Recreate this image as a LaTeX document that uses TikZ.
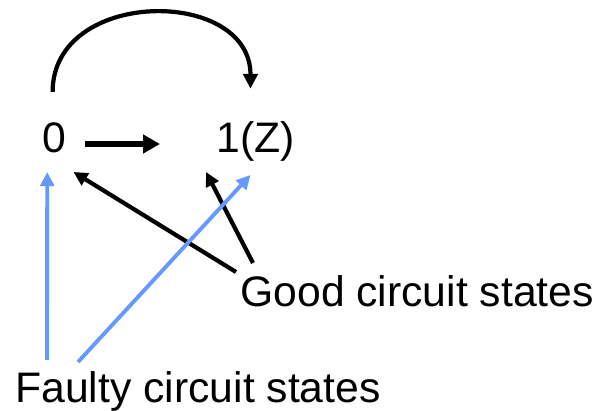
\documentclass[tikz,border=0pt]{standalone}
\usepackage{fontspec}
\setmainfont{Liberation Sans}
\usetikzlibrary{arrows.meta, positioning, calc}
\definecolor{faultblue}{RGB}{102,153,255}
\tikzset{
  st label/.style={
    inner sep=0pt, anchor=base west,
    font=\fontsize{24.3}{28}\selectfont
  },
  move arrow/.style={
    -{Triangle[length=9.6pt, width=10.2pt]}, line width=3.2pt, draw=black
  },
  loop arrow/.style={
    -{Triangle[length=8.5pt, width=8.2pt]}, line width=2.4pt, draw=black
  },
  good arrow/.style={
    -{Triangle[length=8pt, width=7.8pt]}, line width=2.4pt, draw=black
  },
  fault arrow/.style={
    -{Triangle[length=8pt, width=7.8pt]}, line width=2.2pt, draw=faultblue
  }
}

\begin{document}
\begin{tikzpicture}[x=0.02cm, y=-0.02cm]
  \useasboundingbox (0,0) rectangle (598,411);

  % states
  \node (zero) [st label] at (42,153) {0};
  \node (one) [st label] at (216,153) {1(Z)};

  % labels
  \node (good) [st label] at (240,307) {Good circuit states};
  \node (faulty) [st label] at (15,403) {Faulty circuit states};

  % transitions
  \draw [move arrow] ($(zero.base east)+(19,-9)$) -- ($(one.base west)+(-56,-9)$);
  \draw [loop arrow] ($(zero.north)+(-1.6,-31)$)
    .. controls +(0,-104) and +(0,-102) .. ($(one.north)+(-5,-33)$);

  % pointers
  \draw [good arrow] ($(good.base west)+(-4,-35)$) -- ($(zero.base east)+(7,19)$);
  \draw [good arrow] ($(good.base west)+(13,-44)$) -- ($(one.base west)+(-10,19)$);
  \draw [fault arrow] ($(faulty.base west)+(32,-43)$) -- ($(zero.base)+(-7,19)$);
  \draw [fault arrow] ($(faulty.base west)+(63,-41)$) -- ($(one.base)+(-5,22)$);
\end{tikzpicture}
\end{document}
